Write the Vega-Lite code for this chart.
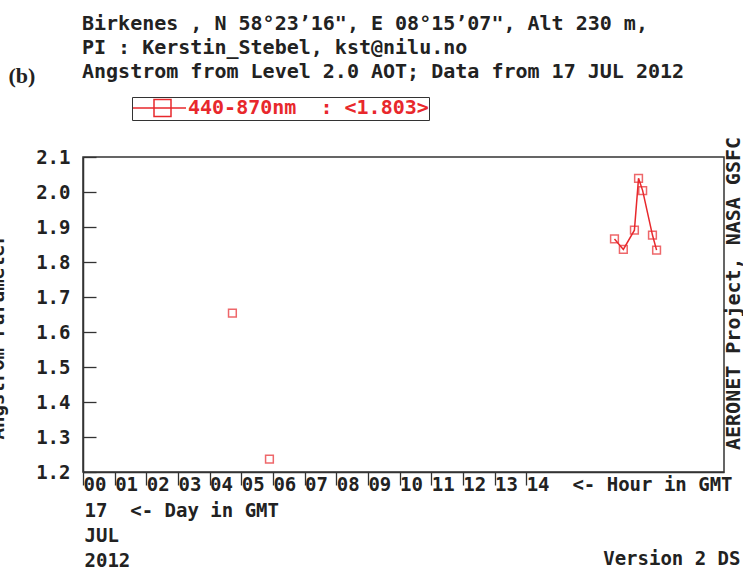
{
  "$schema": "https://vega.github.io/schema/vega-lite/v6.json",
  "width": 641,
  "height": 315,
  "autosize": {"type": "none"},
  "padding": {"left": 83, "top": 157, "right": 19, "bottom": 97},
  "background": "white",
  "config": {
    "view": {"stroke": "#333", "strokeWidth": 1.5},
    "font": "DejaVu Sans Mono"
  },
  "title": {
    "text": [
      "Birkenes , N 58°23’16\", E 08°15’07\", Alt 230 m,",
      "PI : Kerstin_Stebel, kst@nilu.no",
      "Angstrom from Level 2.0 AOT; Data from 17 JUL 2012"
    ],
    "anchor": "start",
    "frame": "group",
    "orient": "top",
    "font": "DejaVu Sans Mono",
    "fontSize": 20,
    "fontWeight": "bold",
    "color": "#222",
    "lineHeight": 24,
    "dx": -1,
    "offset": -18
  },
  "data": {
    "values": [
      {"hour": 4.72, "ang": 1.654, "seg": "a", "band": "440-870nm"},
      {"hour": 5.89, "ang": 1.237, "seg": "b", "band": "440-870nm"},
      {"hour": 16.79, "ang": 1.866, "seg": "c", "band": "440-870nm"},
      {"hour": 17.07, "ang": 1.836, "seg": "c", "band": "440-870nm"},
      {"hour": 17.42, "ang": 1.891, "seg": "c", "band": "440-870nm"},
      {"hour": 17.55, "ang": 2.039, "seg": "c", "band": "440-870nm"},
      {"hour": 17.68, "ang": 2.004, "seg": "c", "band": "440-870nm"},
      {"hour": 17.99, "ang": 1.877, "seg": "c", "band": "440-870nm"},
      {"hour": 18.12, "ang": 1.834, "seg": "c", "band": "440-870nm"}
    ]
  },
  "layer": [
    {
      "mark": {"type": "line", "strokeWidth": 1.5},
      "encoding": {
        "x": {
          "field": "hour", "type": "quantitative",
          "scale": {"domain": [0, 20.25], "nice": false, "zero": false},
          "axis": {
            "orient": "bottom",
            "values": [0,1,2,3,4,5,6,7,8,9,10,11,12,13,14],
            "labelExpr": "datum.value == 14 ? '14\u00a0\u00a0<-\u00a0Hour\u00a0in\u00a0GMT' : (datum.value < 10 ? '0' : '') + datum.value",
            "labelAlign": "left", "labelBaseline": "top", "labelDx": 2,
            "tickSize": 13, "labelPadding": -10,
            "labelFlush": false, "labelOverlap": false, "labelLimit": 400,
            "labelFont": "DejaVu Sans Mono", "labelFontSize": 19, "labelFontWeight": "bold", "labelColor": "#222",
            "tickColor": "#333", "tickWidth": 1.3, "domainColor": "#333", "domainWidth": 1.5, "grid": false,
            "title": ["17\u00a0\u00a0<-\u00a0Day\u00a0in\u00a0GMT", "JUL", "2012"],
            "titleX": 1, "titleY": 29, "titleAlign": "left", "titleBaseline": "top", "titleAngle": 0,
            "titleFont": "DejaVu Sans Mono", "titleFontSize": 19, "titleFontWeight": "bold", "titleColor": "#222",
            "titleLineHeight": 25, "titleLimit": 600
          }
        },
        "y": {
          "field": "ang", "type": "quantitative",
          "scale": {"domain": [1.2, 2.1], "nice": false, "zero": false},
          "axis": {
            "orient": "left",
            "values": [1.2,1.3,1.4,1.5,1.6,1.7,1.8,1.9,2.0,2.1],
            "format": ".1f",
            "tickSize": -13, "labelPadding": 26,
            "labelFont": "DejaVu Sans Mono", "labelFontSize": 19, "labelFontWeight": "bold", "labelColor": "#222",
            "labelFlush": false, "labelOverlap": false,
            "tickColor": "#333", "tickWidth": 1.3, "domainColor": "#333", "domainWidth": 1.5, "grid": false,
            "title": "Angstrom Parameter",
            "titleX": -80, "titleY": 179, "titleAngle": 270, "titleAlign": "center", "titleBaseline": "alphabetic",
            "titleFont": "DejaVu Sans Mono", "titleFontSize": 19, "titleFontWeight": "bold", "titleColor": "#222"
          }
        },
        "detail": {"field": "seg"},
        "color": {
          "field": "band", "type": "nominal",
          "scale": {"range": ["#e8282c"]},
          "legend": {
            "orient": "none", "legendX": 49, "legendY": -60, "title": null, "padding": 0,
            "symbolType": "M-1,0H4.3M1.1,-0.85H2.8V0.85H1.1Z",
            "symbolSize": 400, "symbolStrokeWidth": 1.5, "symbolStrokeColor": "#e8282c", "symbolFillColor": "transparent",
            "labelFont": "DejaVu Sans Mono", "labelFontSize": 20, "labelFontWeight": "bold", "labelColor": "#e8282c",
            "labelOffset": 34, "labelLimit": 400,
            "labelExpr": "datum.label + '\u00a0\u00a0:\u00a0<1.803>\u00a0'",
            "strokeColor": "#333", "fillColor": "white"
          }
        }
      }
    },
    {
      "mark": {"type": "point", "shape": "square", "filled": false, "size": 60, "strokeWidth": 1.5, "color": "#e8282c"},
      "encoding": {
        "x": {"field": "hour", "type": "quantitative", "axis": null},
        "y": {"field": "ang", "type": "quantitative", "axis": null}
      }
    },
    {
      "mark": {"type": "point", "opacity": 0},
      "encoding": {
        "x": {
          "field": "hour", "type": "quantitative",
          "axis": {
            "orient": "top", "domain": false, "ticks": false, "labels": false, "grid": false,
            "title": "(b)", "titleX": -75, "titleY": -82, "titleAlign": "left", "titleBaseline": "middle", "titleAngle": 0,
            "titleFont": "Liberation Serif", "titleFontSize": 22, "titleFontWeight": "bold", "titleColor": "#222"
          }
        },
        "y": {
          "field": "ang", "type": "quantitative",
          "axis": {
            "orient": "right", "domain": false, "ticks": false, "labels": false, "grid": false,
            "title": "AERONET Project, NASA GSFC", "titleX": 9, "titleY": 136, "titleAngle": 270,
            "titleAlign": "center", "titleBaseline": "middle",
            "titleFont": "DejaVu Sans Mono", "titleFontSize": 20, "titleFontWeight": "bold", "titleColor": "#222"
          }
        }
      }
    },
    {
      "mark": {"type": "point", "opacity": 0},
      "encoding": {
        "x": {
          "field": "hour", "type": "quantitative",
          "axis": {
            "orient": "top", "domain": false, "ticks": false, "labels": false, "grid": false,
            "title": "Version 2 DS", "titleX": 657, "titleY": 401, "titleAlign": "right", "titleBaseline": "middle", "titleAngle": 0,
            "titleFont": "DejaVu Sans Mono", "titleFontSize": 19, "titleFontWeight": "bold", "titleColor": "#222"
          }
        },
        "y": {"field": "ang", "type": "quantitative", "axis": null}
      }
    }
  ],
  "resolve": {"axis": {"x": "independent", "y": "independent"}}
}
